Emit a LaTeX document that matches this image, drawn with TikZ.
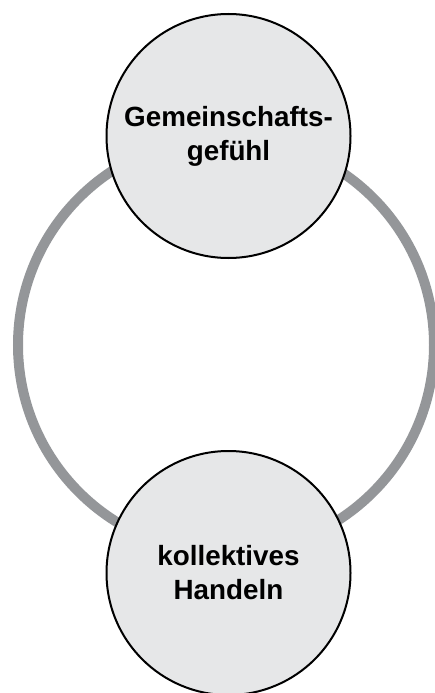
\documentclass[tikz,border=0pt]{standalone}
\usepackage{fontspec}
\setmainfont{Liberation Sans}
\definecolor{ringgray}{RGB}{148,150,153}
\definecolor{nodegray}{RGB}{230,231,232}

\begin{document}
\begin{tikzpicture}[x=1pt, y=-1pt,
    node_style/.style={circle, draw=black, line width=2pt, fill=nodegray,
      minimum size=244pt, inner sep=0pt, align=center,
      font=\fontsize{27.8}{34}\selectfont\bfseries},
    ring_style/.style={draw=ringgray, line width=10pt}]

    \useasboundingbox (0,0) rectangle (434,693);

    \coordinate (c) at (226,345);
    \draw[ring_style] (c) circle[radius=208pt];

    \node[node_style] (v1) at (228.5,136) {Gemeinschafts-\\gefühl};
    \node[node_style] (v2) at (228.5,573) {kollektives\\Handeln};
\end{tikzpicture}
\end{document}
